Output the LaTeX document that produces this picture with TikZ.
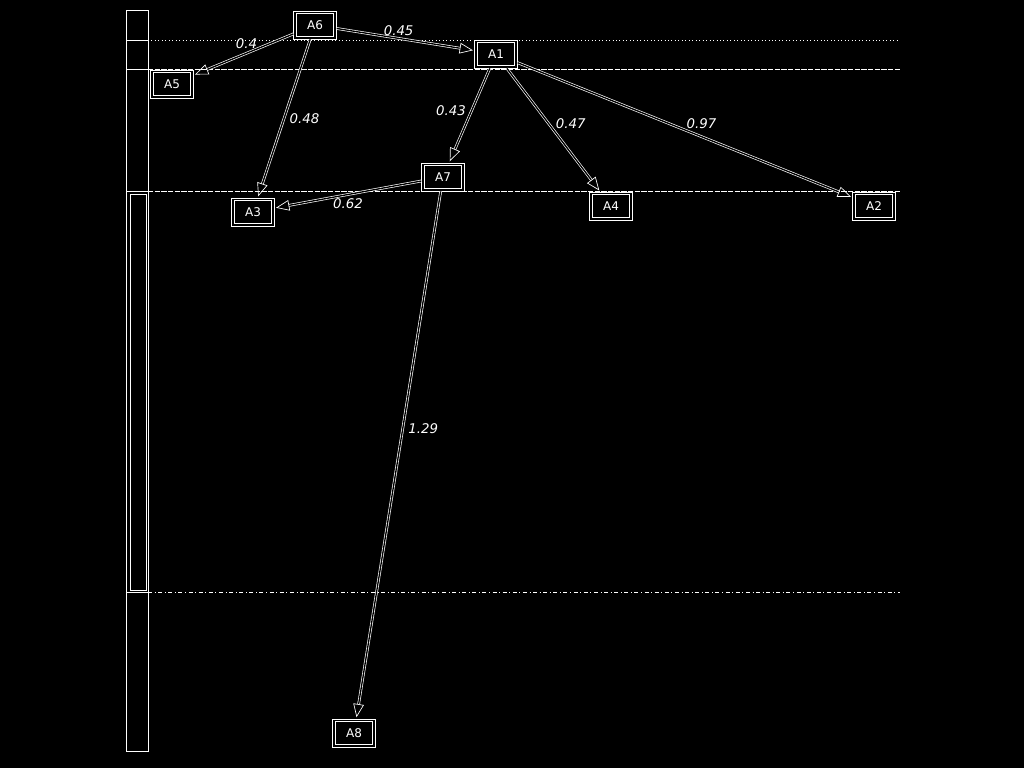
\documentclass[tikz,border=0pt]{standalone}
\usepackage{fontspec}
\setmainfont{DejaVu Sans}
\usetikzlibrary{arrows.meta}
\tikzset{
  box/.style={draw=white, line width=0.6pt,
    minimum width=32pt, minimum height=21pt, inner sep=1pt, font=\fontsize{9}{10}\selectfont, text=white},
  wt/.style={draw=white, line width=0.5pt, double=black, double distance=1pt,
    -{Triangle[open, length=10pt, width=8pt]}, shorten >=1pt},
  lbl/.style={font=\itshape\fontsize{10}{11}\selectfont, text=white, inner sep=1pt},
  lvl/.style={draw=white, line width=0.6pt}
}
\begin{document}
\begin{tikzpicture}[x=0.75pt, y=-0.75pt]
	\fill[black] (0,0) rectangle (1024,768);
	\useasboundingbox (0,0) rectangle (1024,768);
	% left bar
	\draw[lvl] (126,10) rectangle (148,751);
	\draw[lvl] (130,194) rectangle (146,590);
	\draw[lvl] (126,40) -- (148,40);
	\draw[lvl] (126,69) -- (148,69);
	\draw[lvl] (126,191) -- (148,191);
	\draw[lvl] (126,592) -- (148,592);
	% levels
	\draw[lvl, dotted] (148,40) -- (900,40);
	\draw[lvl, dash pattern=on 4pt off 1pt] (148,69) -- (900,69);
	\draw[lvl, dash pattern=on 4pt off 1pt] (148,191) -- (900,191);
	\draw[lvl, dash dot] (148,592) -- (900,592);

	\node[box] (A6) at (315,25) {A6};
	\node[box] (A1) at (496,54) {A1};
	\node[box] (A5) at (172,84) {A5};
	\node[box] (A7) at (443,177) {A7};
	\node[box] (A3) at (253,212) {A3};
	\node[box] (A4) at (611,206) {A4};
	\node[box] (A2) at (874,206) {A2};
	\node[box] (A8) at (354,733) {A8};
	\foreach \n in {A1,A2,A3,A4,A5,A6,A7,A8}
		\draw[white, line width=0.5pt] ([shift={(3,3)}]\n.north west) rectangle ([shift={(-3,-3)}]\n.south east);

	\draw[wt] (A6) -- node[lbl, pos=0.47, above=2pt] {0.4} (A5);
	\draw[wt] (A6) -- node[lbl, pos=0.45, above=1pt] {0.45} (A1);
	\draw[wt] (A6) -- node[lbl, pos=0.5, right=3pt] {0.48} (A3);
	\draw[wt] (A1) -- node[lbl, pos=0.45, left=3pt] {0.43} (A7);
	\draw[wt] (A1) -- node[lbl, pos=0.45, right=4pt] {0.47} (A4);
	\draw[wt] (A1) -- node[lbl, pos=0.5, above right] {0.97} (A2);
	\draw[wt] (A7) -- node[lbl, pos=0.5, below=2pt] {0.62} (A3);
	\draw[wt] (A7) -- node[lbl, pos=0.45, right=3pt] {1.29} (A8);
\end{tikzpicture}
\end{document}
